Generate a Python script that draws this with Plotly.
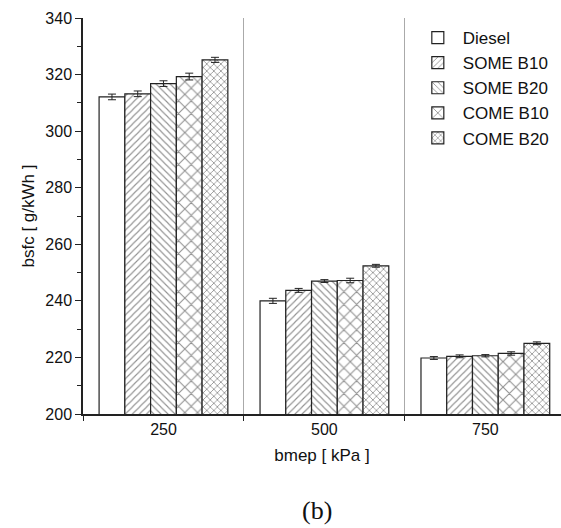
import plotly.graph_objects as go

categories = ["250", "500", "750"]
series_names = ["Diesel", "SOME B10", "SOME B20", "COME B10", "COME B20"]
values = {
    "Diesel":   [312.1, 240.0, 219.8],
    "SOME B10": [313.2, 243.7, 220.4],
    "SOME B20": [316.8, 247.0, 220.6],
    "COME B10": [319.3, 247.2, 221.4],
    "COME B20": [325.2, 252.4, 225.0],
}
errors = {
    "Diesel":   [1.0, 0.9, 0.5],
    "SOME B10": [1.0, 0.7, 0.5],
    "SOME B20": [1.0, 0.5, 0.4],
    "COME B10": [1.2, 0.8, 0.6],
    "COME B20": [0.9, 0.5, 0.5],
}
patterns = {
    "Diesel":   dict(shape=""),
    "SOME B10": dict(shape="/", size=5, solidity=0.22, fgcolor="#222"),
    "SOME B20": dict(shape="\\", size=5, solidity=0.22, fgcolor="#222"),
    "COME B10": dict(shape="x", size=9, solidity=0.22, fgcolor="#222"),
    "COME B20": dict(shape="x", size=5, solidity=0.3, fgcolor="#222"),
}

fig = go.Figure()
for name in series_names:
    fig.add_trace(go.Bar(
        x=categories, y=values[name], name=name,
        marker=dict(color="white", line=dict(color="#222", width=1.2),
                    pattern=patterns[name]),
        error_y=dict(type="data", array=errors[name], color="#222",
                     thickness=1, width=4),
    ))

fig.update_layout(
    width=561, height=528,
    margin=dict(l=83, r=0, t=18, b=114),
    paper_bgcolor="white", plot_bgcolor="white",
    barmode="group", bargap=0.2, bargroupgap=0,
    font=dict(family="Liberation Sans, Arial, sans-serif", color="#111", size=16),
    legend=dict(x=0.69, y=0.995, xanchor="left", yanchor="top",
                font=dict(size=17), tracegroupgap=0,
                bgcolor="rgba(0,0,0,0)", itemwidth=40),
    showlegend=True,
)
fig.update_xaxes(
    type="category", range=[-0.5, 2.47],
    showline=True, linecolor="#222", linewidth=1.5,
    tickson="boundaries", ticks="outside", ticklen=5, tickcolor="#222",
    showgrid=True, gridcolor="#aaa", gridwidth=1,
    tickfont=dict(size=16),
    title=dict(text="bmep [ kPa ]", font=dict(size=17), standoff=12),
    zeroline=False,
)
fig.update_yaxes(
    range=[200, 340], dtick=20,
    showline=True, linecolor="#222", linewidth=1.5,
    ticks="outside", ticklen=6, tickcolor="#222",
    minor=dict(ticks="outside", ticklen=4, dtick=10, tickcolor="#222"),
    showgrid=False, zeroline=False,
    tickfont=dict(size=16),
    title=dict(text="bsfc [ g/kWh ]", font=dict(size=17), standoff=6),
)
fig.add_annotation(text="(b)", xref="paper", yref="paper", x=0.49, y=-0.243,
                   xanchor="center", yanchor="middle", showarrow=False,
                   font=dict(family="Liberation Serif, DejaVu Serif, serif", size=26, color="#111"))

fig.write_html("out.html")
